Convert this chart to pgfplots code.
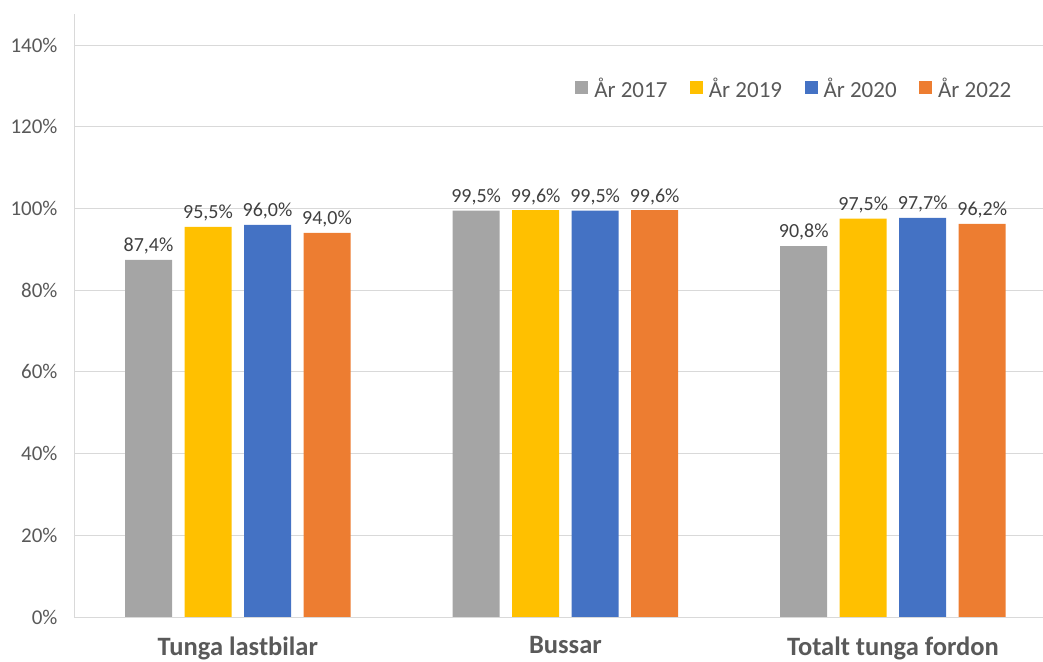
\documentclass[border=0pt]{standalone}
\usepackage{fontspec}
\setmainfont{Carlito}
\usepackage{pgfplots}
\pgfplotsset{compat=1.18}
\definecolor{cA}{HTML}{A5A5A5}
\definecolor{cB}{HTML}{FFC000}
\definecolor{cC}{HTML}{4472C4}
\definecolor{cD}{HTML}{ED7D31}
\definecolor{gridc}{HTML}{D9D9D9}
\definecolor{txt}{HTML}{595959}
\definecolor{lab}{HTML}{404040}
\begin{document}
\begin{tikzpicture}
\begin{axis}[
  at={(74bp,45bp)}, anchor=south west,
  scale only axis, width=969bp, height=603bp,
  xmin=-0.5, xmax=2.458, ymin=0, ymax=147.6,
  ybar=12.5bp, bar width=47bp,
  axis x line*=bottom, axis y line*=left,
  axis line style={draw=gridc, line width=1bp, -},
  /pgf/number format/assume math mode=true,
  xtick={0,1,2},
  xticklabels={Tunga lastbilar, Bussar, Totalt tunga fordon},
  xticklabel style={font=\fontsize{26.5bp}{31bp}\selectfont\bfseries, text=txt, yshift=-16bp},
  ytick={0,20,...,140},
  yticklabel={\pgfmathprintnumber{\tick}\%},
  yticklabel style={font=\fontsize{21bp}{25bp}\selectfont, text=txt, xshift=-13bp},
  major tick length=0,
  ymajorgrids, grid style={draw=gridc, line width=1bp},
  nodes near coords={\pgfmathprintnumber[fixed,fixed zerofill,precision=1,use comma]{\pgfplotspointmeta}\%},
  nodes near coords style={font=\fontsize{20bp}{24bp}\selectfont, text=lab, anchor=south, yshift=2bp},
  legend columns=-1,
  legend style={at={(0.514,0.877)}, anchor=west, draw=none, fill=none,
    font=\fontsize{23bp}{27bp}\selectfont, text=txt,
    /tikz/every odd column/.append style={column sep=4bp},
    /tikz/every even column/.append style={column sep=20.5bp}},
  legend image code/.code={\fill[#1] (0bp,-6bp) rectangle (13bp,7bp);},
]
\addplot[fill=cA, draw=none] coordinates {(0,87.4) (1,99.5) (2,90.8)};
\addplot[fill=cB, draw=none] coordinates {(0,95.5) (1,99.6) (2,97.5)};
\addplot[fill=cC, draw=none] coordinates {(0,96.0) (1,99.5) (2,97.7)};
\addplot[fill=cD, draw=none] coordinates {(0,94.0) (1,99.6) (2,96.2)};
\legend{År 2017, År 2019, År 2020, År 2022}
\end{axis}
\pgfresetboundingbox
\useasboundingbox (0,0) rectangle (1043bp,662bp);
\end{tikzpicture}
\end{document}
